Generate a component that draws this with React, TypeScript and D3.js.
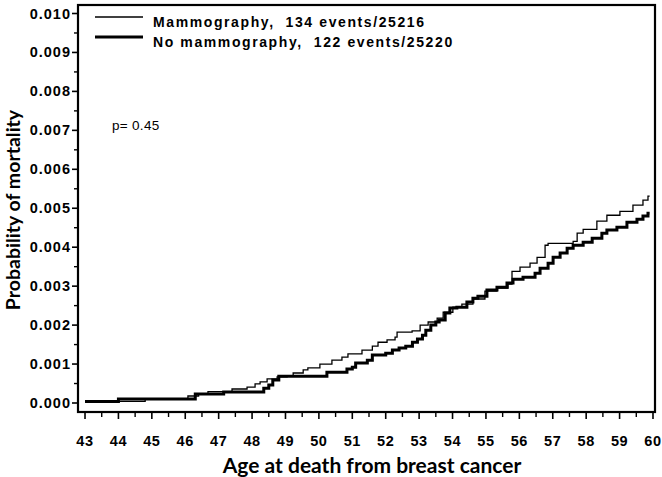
import React from "react";
import * as d3 from "d3";

const xTicks = [43, 44, 45, 46, 47, 48, 49, 50, 51, 52, 53, 54, 55, 56, 57, 58, 59, 60];
const yTicks = [0, 0.001, 0.002, 0.003, 0.004, 0.005, 0.006, 0.007, 0.008, 0.009, 0.01];
const seriesNames = ["Mammography,  134 events/25216", "No mammography,  122 events/25220"];
const pValueText = "p= 0.45";
const xTitle = "Age at death from breast cancer";
const yTitle = "Probability of mortality";
const endAge = 59.9;

// [age, cumulative probability] step points
const mammography: [number, number][] = [
  [43.0, 0.00004], [44.8, 0.0001], [46.08, 0.00018], [46.4, 0.00023], [46.68, 0.00029],
  [47.4, 0.00036], [47.85, 0.00041], [48.09, 0.00049], [48.24, 0.00054], [48.45, 0.00062],
  [48.75, 0.00067], [49.05, 0.00069], [49.23, 0.00077], [49.53, 0.00085], [49.67, 0.0009],
  [50.03, 0.001], [50.39, 0.0011], [50.69, 0.00118], [50.87, 0.00126], [51.29, 0.00136],
  [51.6, 0.00146], [51.77, 0.00156], [52.04, 0.00162], [52.28, 0.00169], [52.34, 0.00182],
  [52.79, 0.00185], [53.03, 0.002], [53.27, 0.00208], [53.54, 0.00218], [53.72, 0.00233],
  [54.01, 0.00246], [54.28, 0.00254], [54.61, 0.00267], [54.97, 0.00287], [55.33, 0.00295],
  [55.66, 0.00305], [55.78, 0.00338], [56.02, 0.00349], [56.32, 0.00359], [56.53, 0.00374],
  [56.77, 0.00405], [56.86, 0.0041], [57.61, 0.00415], [57.73, 0.00436], [57.91, 0.00446],
  [58.32, 0.00467], [58.62, 0.00482], [59.01, 0.00492], [59.4, 0.00508], [59.7, 0.00521],
  [59.85, 0.00531],
];

const noMammography: [number, number][] = [
  [43.0, 0.00004], [44.0, 0.0001], [46.3, 0.00023], [47.15, 0.00028], [48.35, 0.00038],
  [48.5, 0.00046], [48.62, 0.00059], [48.8, 0.00069], [50.24, 0.00079], [50.84, 0.00087],
  [51.0, 0.00092], [51.1, 0.00103], [51.45, 0.0011], [51.6, 0.00123], [52.0, 0.00128],
  [52.2, 0.00136], [52.4, 0.00141], [52.6, 0.00146], [52.8, 0.00156], [52.95, 0.00164],
  [53.1, 0.00174], [53.2, 0.00187], [53.35, 0.002], [53.5, 0.00208], [53.6, 0.00213],
  [53.78, 0.00231], [53.92, 0.00244], [54.13, 0.00246], [54.43, 0.00259], [54.61, 0.00269],
  [54.76, 0.00274], [55.03, 0.0029], [55.33, 0.00297], [55.63, 0.00308], [55.81, 0.00318],
  [56.11, 0.00323], [56.47, 0.00333], [56.62, 0.00346], [56.86, 0.00359], [57.01, 0.00374],
  [57.22, 0.00385], [57.43, 0.00397], [57.61, 0.00405], [57.91, 0.00413], [58.18, 0.00423],
  [58.47, 0.00436], [58.62, 0.00444], [58.92, 0.00451], [59.22, 0.00464], [59.52, 0.00472],
  [59.7, 0.0048], [59.85, 0.00487],
];

const W = 662;
const H = 477;
const L = 78, R = 655, T = 5, B = 412;

export default function App() {
  const x = d3.scaleLinear().domain([42.79, 60.06]).range([L, R]);
  const y = d3.scaleLinear().domain([0, 0.01]).range([403, 13.5]);

  const line = d3
    .line<[number, number]>()
    .x((d) => x(d[0]))
    .y((d) => y(d[1]))
    .curve(d3.curveStepAfter);

  const withEnd = (s: [number, number][]): [number, number][] => [...s, [endAge, s[s.length - 1][1]]];

  const xMinor = xTicks.slice(0, -1).map((t) => t + 0.5);
  const yMinor = yTicks.slice(0, -1).map((t) => t + 0.0005);

  const tickFont = "'Liberation Sans', Arial, sans-serif";
  const titleFont = "Lato, 'Open Sans', sans-serif";

  return (
    <svg
      width={W}
      height={H}
      style={{ position: "absolute", left: 0, top: 0, background: "#fff" }}
    >
      <rect x={0} y={0} width={W} height={H} fill="#fff" />
      {/* series */}
      <path d={line(withEnd(mammography)) || ""} fill="none" stroke="#000" strokeWidth={1.3} />
      <path d={line(withEnd(noMammography)) || ""} fill="none" stroke="#000" strokeWidth={3} />

      {/* frame */}
      <rect x={L} y={T} width={R - L} height={B - T} fill="none" stroke="#000" strokeWidth={2.2} />

      {/* x ticks */}
      {xTicks.map((t) => (
        <g key={"xt" + t}>
          <line x1={x(t)} x2={x(t)} y1={B} y2={B + 7} stroke="#000" strokeWidth={1.6} />
          <text
            x={x(t)}
            y={446}
            textAnchor="middle"
            fontFamily={tickFont}
            fontWeight="bold"
            fontSize={14.5}
            letterSpacing={0.6}
            fill="#000"
          >
            {t}
          </text>
        </g>
      ))}
      {xMinor.map((t) => (
        <line key={"xm" + t} x1={x(t)} x2={x(t)} y1={B} y2={B + 5} stroke="#000" strokeWidth={1.4} />
      ))}

      {/* y ticks */}
      {yTicks.map((t) => (
        <g key={"yt" + t}>
          <line x1={L - 6} x2={L} y1={y(t)} y2={y(t)} stroke="#000" strokeWidth={1.6} />
          <text
            x={71}
            y={y(t) + 5}
            textAnchor="end"
            fontFamily={tickFont}
            fontWeight="bold"
            fontSize={14.5}
            letterSpacing={1}
            fill="#000"
          >
            {d3.format(".3f")(t)}
          </text>
        </g>
      ))}
      {yMinor.map((t) => (
        <line key={"ym" + t} x1={L - 4} x2={L} y1={y(t)} y2={y(t)} stroke="#000" strokeWidth={1.4} />
      ))}

      {/* axis titles */}
      <text
        x={372}
        y={473}
        textAnchor="middle"
        fontFamily={titleFont}
        fontWeight="bold"
        fontSize={21}
        fill="#000"
      >
        {xTitle}
      </text>
      <text
        transform={`translate(20, 210) rotate(-90)`}
        textAnchor="middle"
        fontFamily={titleFont}
        fontWeight="bold"
        fontSize={19.5}
        fill="#000"
      >
        {yTitle}
      </text>

      {/* legend */}
      <line x1={95} x2={143} y1={17} y2={17} stroke="#000" strokeWidth={1.3} />
      <line x1={95} x2={143} y1={37} y2={37} stroke="#000" strokeWidth={3} />
      <text x={153} y={27} fontFamily={tickFont} fontWeight="bold" fontSize={14} letterSpacing={1.6} fill="#000" xmlSpace="preserve">
        {seriesNames[0]}
      </text>
      <text x={153} y={47} fontFamily={tickFont} fontWeight="bold" fontSize={14} letterSpacing={1.6} fill="#000" xmlSpace="preserve">
        {seriesNames[1]}
      </text>

      <text x={112} y={130} fontFamily={tickFont} fontSize={13.5} letterSpacing={0.3} fill="#000" xmlSpace="preserve">
        {pValueText}
      </text>
    </svg>
  );
}
